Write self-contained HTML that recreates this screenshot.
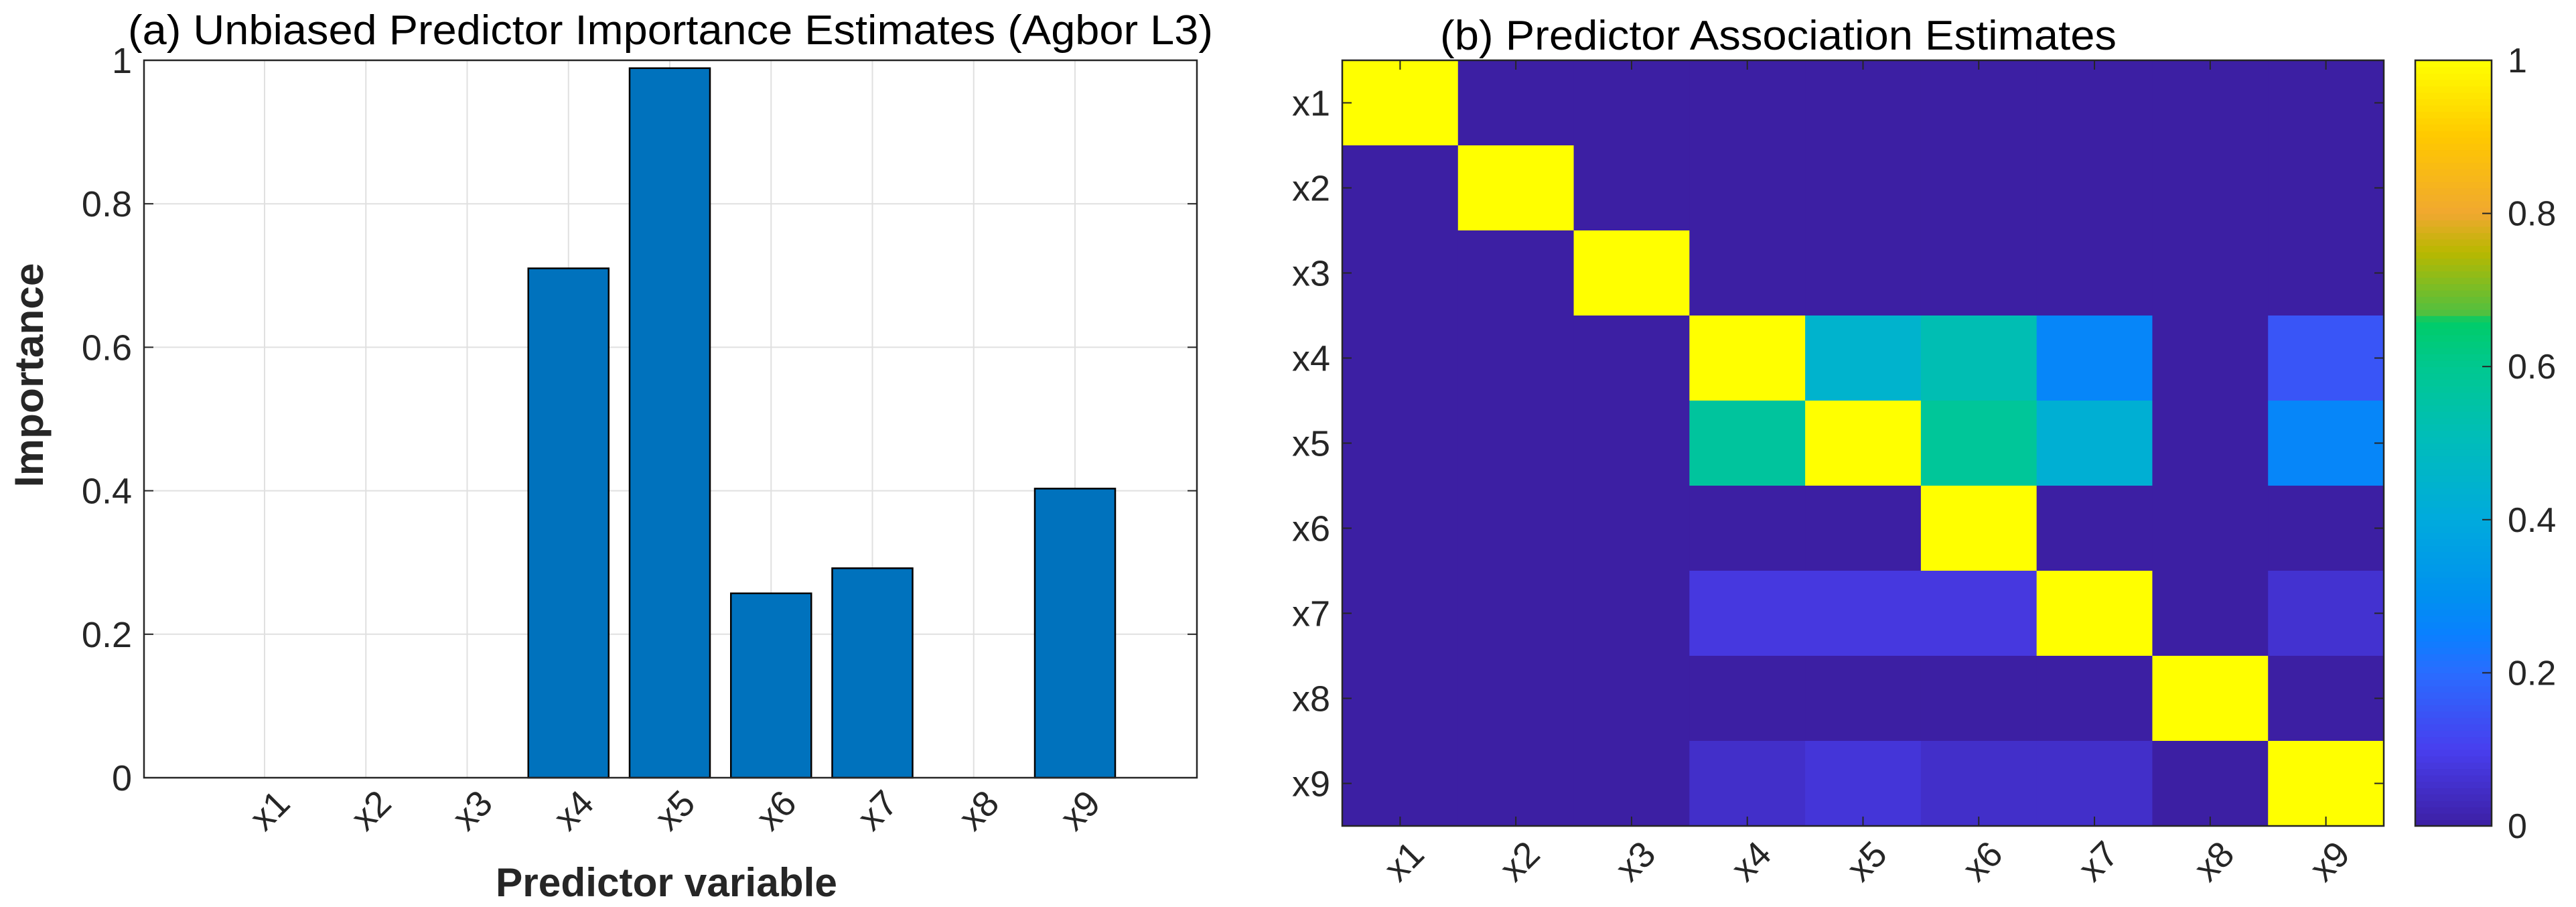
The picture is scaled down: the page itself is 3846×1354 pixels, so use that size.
<!DOCTYPE html>
<html><head><meta charset="utf-8"><style>
html,body{margin:0;padding:0;background:#fff;}
svg{display:block;font-family:"Liberation Sans",Arial,sans-serif;}
</style></head><body>
<svg id="fig" width="3846" height="1354" viewBox="0 0 3846 1354" xmlns="http://www.w3.org/2000/svg">
<g id="left"></g>
<g id="right"></g>
</svg>
<script>
const categories = ["x1","x2","x3","x4","x5","x6","x7","x8","x9"];
const importance = [0, 0, 0, 0.71, 0.989, 0.257, 0.292, 0, 0.403];
const yTicks = [0, 0.2, 0.4, 0.6, 0.8, 1];
const yTickLabels = ["0","0.2","0.4","0.6","0.8","1"];
const assocRow1 = [1,0,0,0,0,0,0,0,0];
const assocRow2 = [0,1,0,0,0,0,0,0,0];
const assocRow3 = [0,0,1,0,0,0,0,0,0];
const assocRow4 = [0,0,0,1,0.45,0.52,0.27,0,0.15];
const assocRow5 = [0,0,0,0.57,1,0.58,0.43,0,0.27];
const assocRow6 = [0,0,0,0,0,1,0,0,0];
const assocRow7 = [0,0,0,0.08,0.08,0.08,1,0,0.06];
const assocRow8 = [0,0,0,0,0,0,0,1,0];
const assocRow9 = [0,0,0,0.05,0.07,0.05,0.05,0,1];
const cbTicks = [0,0.2,0.4,0.6,0.8,1];
const cbTickLabels = ["0","0.2","0.4","0.6","0.8","1"];

const NS="http://www.w3.org/2000/svg";
function mk(parent,tag,attrs,text){const e=document.createElementNS(NS,tag);for(const k in attrs)e.setAttribute(k,attrs[k]);if(text!==undefined)e.textContent=text;parent.appendChild(e);return e;}

// ---- left bar chart ----
const L=document.getElementById('left');
const ax={l:215,r:1787,t:90,b:1161};
const xPos=i=>395+i*151.25;
const yPos=v=>ax.b-(v-0)*(ax.b-ax.t)/1;
let e;
e=mk(L,'rect',{x:ax.l,y:ax.t,width:ax.r-ax.l,height:ax.b-ax.t,fill:'#fff'});


yTicks.forEach((v,i)=>{
  e=mk(L,'line',{x1:ax.l,x2:ax.r,y1:yPos(v),y2:yPos(v),stroke:'#e0e0e0','stroke-width':2});
  
  
  e=mk(L,'text',{x:197,y:yPos(v)+19,'text-anchor':'end','font-size':54,fill:'#262626'},yTickLabels[i]);
  
  
  mk(L,'line',{x1:ax.l,x2:ax.l+14,y1:yPos(v),y2:yPos(v),stroke:'#262626','stroke-width':2});
  mk(L,'line',{x1:ax.r,x2:ax.r-14,y1:yPos(v),y2:yPos(v),stroke:'#262626','stroke-width':2});
});
categories.forEach((c,i)=>{
  e=mk(L,'line',{x1:xPos(i),x2:xPos(i),y1:ax.t,y2:ax.b,stroke:'#e0e0e0','stroke-width':2});
  
  
});
const bw=120;
categories.forEach((c,i)=>{
  const v=importance[i];
  e=mk(L,'rect',{x:xPos(i)-bw/2,y:yPos(v),width:bw,height:Math.max(0,ax.b-yPos(v)),fill:'#0072bd',stroke:'#000','stroke-width':2.5});
  
  
  const tx=xPos(i)+8, ty=1228;
  e=mk(L,'text',{x:tx,y:ty,'text-anchor':'middle','font-size':54,fill:'#262626',transform:`rotate(-45 ${tx} ${ty-18})`},c);
  
  
});
e=mk(L,'rect',{x:ax.l,y:ax.t,width:ax.r-ax.l,height:ax.b-ax.t,fill:'none',stroke:'#262626','stroke-width':2.5});


e=mk(L,'text',{x:1001,y:66,'text-anchor':'middle','font-size':62,fill:'#000',textLength:1620,lengthAdjust:'spacingAndGlyphs'},'(a) Unbiased Predictor Importance Estimates (Agbor L3)');


e=mk(L,'text',{x:995,y:1338,'text-anchor':'middle','font-size':60,'font-weight':'bold',fill:'#262626',textLength:510,lengthAdjust:'spacingAndGlyphs'},'Predictor variable');


e=mk(L,'text',{x:64,y:560,'text-anchor':'middle','font-size':60,'font-weight':'bold',fill:'#262626',transform:'rotate(-90 64 560)',textLength:335,lengthAdjust:'spacingAndGlyphs'},'Importance');



// ---- right heatmap ----
const R=document.getElementById('right');
const hm={l:2004,r:3559,t:90,b:1233};
const rows=[assocRow1,assocRow2,assocRow3,assocRow4,assocRow5,assocRow6,assocRow7,assocRow8,assocRow9];
const cw=(hm.r-hm.l)/9, ch=(hm.b-hm.t)/9;
const stops=[[0,[60,31,163]],[0.1,[72,62,238]],[0.2,[42,108,255]],[0.25,[10,128,255]],[0.3,[0,144,240]],[0.4,[0,170,221]],[0.5,[0,188,188]],[0.6,[0,200,144]],[0.66,[0,204,104]],[0.67,[80,192,64]],[0.75,[184,184,0]],[0.8,[240,168,48]],[0.9,[255,200,0]],[1,[255,255,0]]];
function cmap(v){v=Math.max(0,Math.min(1,v));for(let i=1;i<stops.length;i++){if(v<=stops[i][0]){const a=stops[i-1],b=stops[i],t=(v-a[0])/(b[0]-a[0]);const c=a[1].map((x,k)=>Math.round(x+(b[1][k]-x)*t));return `rgb(${c})`;}}return 'rgb(255,255,0)';}
rows.forEach((row,r)=>{
  row.forEach((v,c)=>{
    e=mk(R,'rect',{x:hm.l+c*cw,y:hm.t+r*ch,width:cw+0.6,height:ch+0.6,fill:cmap(v)});
    
    
  });
});
categories.forEach((c,i)=>{
  const cx=hm.l+(i+0.5)*cw, cy=hm.t+(i+0.5)*ch;
  mk(R,'line',{x1:cx,x2:cx,y1:hm.b,y2:hm.b-14,stroke:'#262626','stroke-width':2});
  mk(R,'line',{x1:cx,x2:cx,y1:hm.t,y2:hm.t+14,stroke:'#262626','stroke-width':2});
  mk(R,'line',{x1:hm.l,x2:hm.l+14,y1:cy,y2:cy,stroke:'#262626','stroke-width':2});
  mk(R,'line',{x1:hm.r,x2:hm.r-14,y1:cy,y2:cy,stroke:'#262626','stroke-width':2});
  e=mk(R,'text',{x:1986,y:cy+19,'text-anchor':'end','font-size':54,fill:'#262626'},c);
  
  
  const tx=cx+6, ty=1304;
  e=mk(R,'text',{x:tx,y:ty,'text-anchor':'middle','font-size':54,fill:'#262626',transform:`rotate(-45 ${tx} ${ty-18})`},c);
  
  
});
e=mk(R,'rect',{x:hm.l,y:hm.t,width:hm.r-hm.l,height:hm.b-hm.t,fill:'none',stroke:'#262626','stroke-width':2.5});


e=mk(R,'text',{x:2150,y:74,'font-size':62,fill:'#000',textLength:1010,lengthAdjust:'spacingAndGlyphs'},'(b) Predictor Association Estimates');



// colorbar
const cb={l:3606,r:3720,t:90,b:1233};
const N=120;
for(let k=0;k<N;k++){
  const v=(k+0.5)/N;
  e=mk(R,'rect',{x:cb.l,y:cb.b-(k+1)*(cb.b-cb.t)/N,width:cb.r-cb.l,height:(cb.b-cb.t)/N+0.8,fill:cmap(v)});
  
  
}
e=mk(R,'rect',{x:cb.l,y:cb.t,width:cb.r-cb.l,height:cb.b-cb.t,fill:'none',stroke:'#262626','stroke-width':2.5});


cbTicks.forEach((v,i)=>{
  const y=cb.b-v*(cb.b-cb.t);
  mk(R,'line',{x1:cb.r,x2:cb.r-14,y1:y,y2:y,stroke:'#262626','stroke-width':2});
  e=mk(R,'text',{x:3744,y:y+18,'font-size':52,fill:'#262626'},cbTickLabels[i]);
  
  
});
</script>
</body></html>
